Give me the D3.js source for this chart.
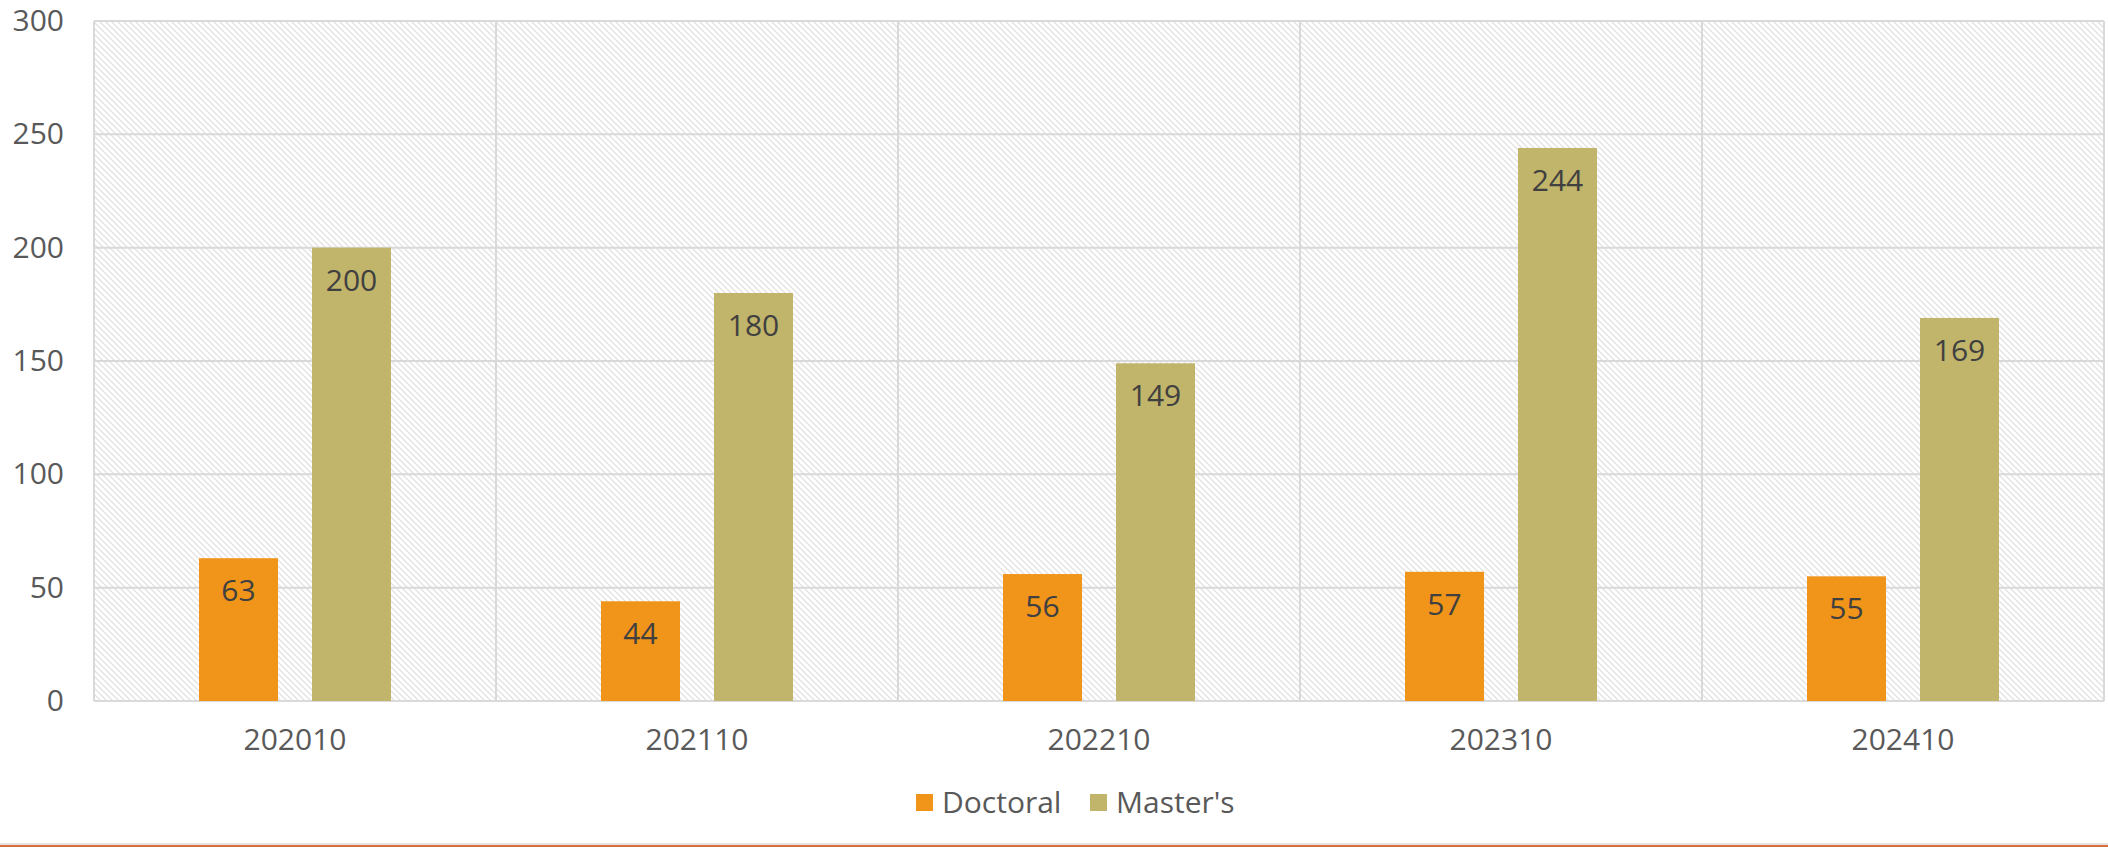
<!DOCTYPE html>
<html>
<head>
<meta charset="utf-8">
<script src="https://cdn.jsdelivr.net/npm/d3@7"></script>
<style>
  body { margin: 0; background: #fff; }
  svg text { font-family: "Open Sans", "Noto Sans", sans-serif; }
</style>
</head>
<body>
<div id="chart"></div>
<script>
let categories = ["202010", "202110", "202210", "202310", "202410"];
let series = ["Doctoral", "Master's"];
let doctoral = [63, 44, 56, 57, 55];
let masters = [200, 180, 149, 244, 169];
let yTicks = [0, 50, 100, 150, 200, 250, 300];
let colors = ["#F0941A", "#C1B46B"];

let svgWidth = 2108;
let svgHeight = 847;
let plotLeft = 94, plotRight = 2104, plotTop = 21, plotBottom = 701;

let svg = d3.select("#chart")
  .append("svg")
  .attr("width", svgWidth)
  .attr("height", svgHeight);

// hatch pattern for plot background
let defs = svg.append("defs");
let pat = defs.append("pattern")
  .attr("id", "hatch")
  .attr("patternUnits", "userSpaceOnUse")
  .attr("width", 6)
  .attr("height", 6);
pat.append("rect").attr("width", 6).attr("height", 6).attr("fill", "#fff");
pat.append("path")
  .attr("d", "M0,0L6,6M-1,5L1,7M5,-1L7,1")
  .attr("stroke", "#e2e2e2")
  .attr("stroke-width", 1.3);

let xScale = d3.scaleBand()
  .domain(categories)
  .range([plotLeft, plotRight])
  .padding(0);

let yScale = d3.scaleLinear()
  .domain([0, 300])
  .range([plotBottom, plotTop]);

let inner = d3.scaleBand()
  .domain(series)
  .range([-96, 96])
  .paddingInner(0.301)
  .paddingOuter(0);

svg.append("rect")
  .attr("x", plotLeft)
  .attr("y", plotTop)
  .attr("width", plotRight - plotLeft)
  .attr("height", plotBottom - plotTop)
  .attr("fill", "url(#hatch)");

// horizontal gridlines
svg.append("g")
  .selectAll("line")
  .data(yTicks)
  .enter()
  .append("line")
  .attr("x1", plotLeft)
  .attr("x2", plotRight)
  .attr("y1", (d) => yScale(d))
  .attr("y2", (d) => yScale(d))
  .attr("stroke", "#d9d9d9")
  .attr("stroke-width", 2);

// vertical category lines
let bounds = categories.map((c) => xScale(c)).concat([plotRight]);
svg.append("g")
  .selectAll("line")
  .data(bounds)
  .enter()
  .append("line")
  .attr("x1", (d) => d)
  .attr("x2", (d) => d)
  .attr("y1", plotTop)
  .attr("y2", plotBottom)
  .attr("stroke", "#d9d9d9")
  .attr("stroke-width", 2);

// y labels
let yAxis = d3.axisLeft(yScale).tickValues(yTicks).tickSize(0).tickPadding(30);
let gy = svg.append("g")
  .attr("transform", "translate(" + plotLeft + ",0)")
  .call(yAxis);
gy.select(".domain").remove();
gy.selectAll("text")
  .attr("fill", "#595959")
  .style("font-size", "30px")
  .style("font-family", "Open Sans");

// x labels
let xAxis = d3.axisBottom(xScale).tickSize(0).tickPadding(28);
let gx = svg.append("g")
  .attr("transform", "translate(0," + plotBottom + ")")
  .call(xAxis);
gx.select(".domain").remove();
gx.selectAll("text")
  .attr("fill", "#595959")
  .style("font-size", "30px")
  .style("font-family", "Open Sans");

// bars
let rows = [];
categories.forEach((c, i) => {
  rows.push({ cat: c, s: series[0], v: doctoral[i], color: colors[0] });
  rows.push({ cat: c, s: series[1], v: masters[i], color: colors[1] });
});

let cx = (d) => xScale(d.cat) + xScale.bandwidth() / 2 + inner(d.s);

svg.append("g")
  .selectAll("rect")
  .data(rows)
  .enter()
  .append("rect")
  .attr("x", cx)
  .attr("y", (d) => yScale(d.v))
  .attr("width", inner.bandwidth())
  .attr("height", (d) => plotBottom - yScale(d.v))
  .attr("fill", (d) => d.color);

svg.append("g")
  .selectAll("text")
  .data(rows)
  .enter()
  .append("text")
  .text((d) => d.v)
  .attr("x", (d) => cx(d) + inner.bandwidth() / 2)
  .attr("y", (d) => yScale(d.v) + 43)
  .attr("text-anchor", "middle")
  .attr("fill", "#404040")
  .style("font-size", "30px");

// legend
let legendX = [916, 1090];
let legend = svg.append("g");
legend.selectAll("rect")
  .data(series)
  .enter()
  .append("rect")
  .attr("x", (d, i) => legendX[i])
  .attr("y", 794)
  .attr("width", 17)
  .attr("height", 17)
  .attr("fill", (d, i) => colors[i]);
legend.selectAll("text")
  .data(series)
  .enter()
  .append("text")
  .text((d) => d)
  .attr("x", (d, i) => legendX[i] + 26)
  .attr("y", 813)
  .attr("fill", "#595959")
  .style("font-size", "30px");

// bottom rule
svg.append("rect").attr("x", 0).attr("y", 843).attr("width", svgWidth).attr("height", 2).attr("fill", "#e3e3e3");
svg.append("rect").attr("x", 0).attr("y", 845).attr("width", svgWidth).attr("height", 2).attr("fill", "#DC6C3E");
</script>
</body>
</html>
